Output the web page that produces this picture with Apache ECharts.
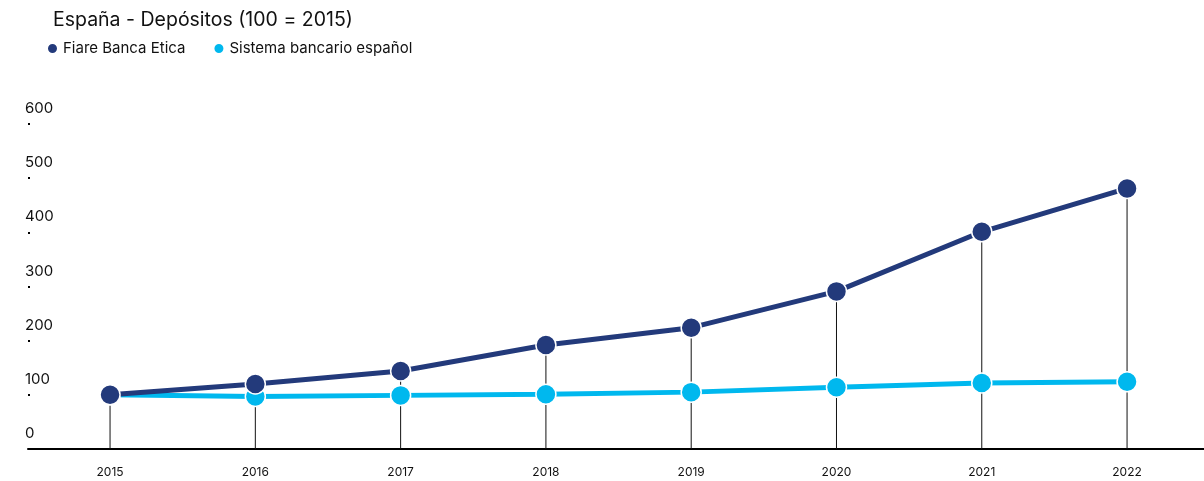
<!DOCTYPE html>
<html>
<head>
<meta charset="utf-8">
<script src="https://cdn.jsdelivr.net/npm/echarts@6/dist/echarts.min.js"></script>
<style>
html,body{margin:0;padding:0;background:#fff;}
#chart{width:1204px;height:481px;}
</style>
</head>
<body>
<div id="chart"></div>
<script>
const titleText = 'España - Depósitos (100 = 2015)';
const years = ['2015','2016','2017','2018','2019','2020','2021','2022'];
const fiareName = 'Fiare Banca Etica';
const sistemaName = 'Sistema bancario español';
const fiare = [100, 120, 144, 192, 224, 291, 401, 481];
const sistema = [100, 97, 99, 101, 105, 114, 122, 124];
const yTicks = [0, 100, 200, 300, 400, 500, 600];

const FONT = 'Inter';
const chart = echarts.init(document.getElementById('chart'), null, {renderer: 'canvas'});
chart.setOption({
  backgroundColor: '#fff',
  animation: false,
  textStyle: {fontFamily: FONT},
  title: {
    text: titleText, left: 48, top: 5,
    textStyle: {fontFamily: FONT, fontSize: 19.5, fontWeight: 'normal', color: '#111'}
  },
  legend: {
    data: [fiareName, sistemaName], padding: 0,
    left: 46, top: 41, icon: 'circle', itemWidth: 11, itemHeight: 11, itemGap: 27, itemTextGap: 5,
    textStyle: {fontFamily: FONT, fontSize: 15, color: '#111'}
  },
  grid: [
    {left: 37.4, right: 4.3, top: 124, bottom: 32},
    {left: 28, right: 0, top: 124, bottom: 32}
  ],
  xAxis: [
    {type: 'category', gridIndex: 0, data: years, boundaryGap: true,
     axisLine: {show: false}, axisTick: {show: false},
     axisLabel: {margin: 17, fontSize: 12, color: '#111', fontFamily: FONT}},
    {type: 'value', gridIndex: 1, min: 0, max: 1,
     axisLine: {show: true, lineStyle: {color: '#000', width: 2}},
     axisTick: {show: false}, axisLabel: {show: false}, splitLine: {show: false}}
  ],
  yAxis: [
    {type: 'value', gridIndex: 0, min: 0, max: 600, interval: 100, show: false, splitLine: {show: false}},
    {type: 'value', gridIndex: 1, min: 0, max: 600, interval: 100,
     axisLine: {show: false},
     axisTick: {show: true, inside: true, length: 2, lineStyle: {color: '#000', width: 2}},
     splitLine: {show: false},
     axisLabel: {align: 'left', margin: 3, verticalAlign: 'bottom', padding: [0,0,8,0],
       fontSize: 15, color: '#111', fontFamily: FONT,
       formatter: v => yTicks.includes(v) ? String(v) : ''}}
  ],
  series: [
    {name: 'drop', type: 'bar', xAxisIndex: 0, yAxisIndex: 0, data: fiare, barWidth: 1,
     itemStyle: {color: '#111'}, silent: true, z: 1},
    {name: sistemaName, type: 'line', xAxisIndex: 0, yAxisIndex: 0, data: sistema,
     symbol: 'circle', symbolSize: 20, color: '#00b8ee',
     lineStyle: {width: 5, color: '#00b8ee'},
     itemStyle: {color: '#00b8ee', borderColor: '#fff', borderWidth: 1.5}, z: 3},
    {name: fiareName, type: 'line', xAxisIndex: 0, yAxisIndex: 0, data: fiare,
     symbol: 'circle', symbolSize: 20, color: '#233a7b',
     lineStyle: {width: 5, color: '#233a7b'},
     itemStyle: {color: '#233a7b', borderColor: '#fff', borderWidth: 1.5}, z: 4}
  ]
});
</script>
</body>
</html>
